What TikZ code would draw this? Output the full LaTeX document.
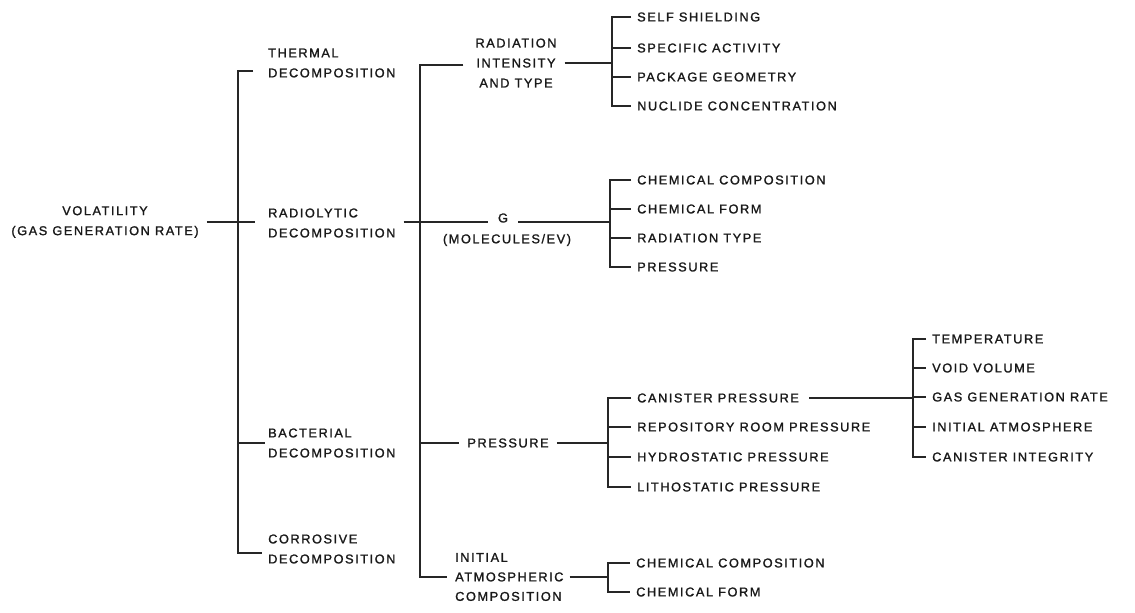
\documentclass[tikz,border=0pt]{standalone}
\usepackage{fontspec}
\usetikzlibrary{calc}
\newfontfamily\lblfont[LetterSpace=12,FakeBold=1.3]{Liberation Sans}
\begin{document}
\begin{tikzpicture}[x=1pt,y=-1pt,
  lbl/.style={font=\lblfont\fontsize{12.8}{20}\selectfont, inner sep=0pt,
              anchor=west, align=left, text=black!90},
  ctr/.style={lbl, anchor=center, align=center},
  wire/.style={draw=black!85, line width=1.4pt},
  tick/.style={wire, shorten >=6pt}]
\fill[white] (0,0) rectangle (1135,613);
\useasboundingbox (0,0) rectangle (1135,613);

% root
\node[ctr] (vol) at (105,222) {VOLATILITY\\(GAS GENERATION RATE)};

% decomposition modes
\node[lbl] (therm) at (268,63)  {THERMAL\\DECOMPOSITION};
\node[lbl] (radio) at (268,223) {RADIOLYTIC\\DECOMPOSITION};
\node[lbl] (bact)  at (268,443) {BACTERIAL\\DECOMPOSITION};
\node[lbl] (corr)  at (268,549) {CORROSIVE\\DECOMPOSITION};

% controlling factors
\node[ctr] (radint) at (516,63) {RADIATION\\INTENSITY\\AND TYPE};
\node[ctr] (g)      at (503,218) {G};
\node[ctr] (mol)    at (507,240) {(MOLECULES/EV)};
\node[ctr] (press)  at (508,443) {PRESSURE};
\node[lbl, font=\lblfont\fontsize{12.8}{19.5}\selectfont] (init) at (455,577) {INITIAL\\ATMOSPHERIC\\COMPOSITION};

% radiation sub-factors
\node[lbl] (ra1) at (637,17)  {SELF SHIELDING};
\node[lbl] (ra2) at (637,48)  {SPECIFIC ACTIVITY};
\node[lbl] (ra3) at (637,77)  {PACKAGE GEOMETRY};
\node[lbl] (ra4) at (637,106) {NUCLIDE CONCENTRATION};

% G-value sub-factors
\node[lbl] (gv1) at (637,180) {CHEMICAL COMPOSITION};
\node[lbl] (gv2) at (637,209) {CHEMICAL FORM};
\node[lbl] (gv3) at (637,238) {RADIATION TYPE};
\node[lbl] (gv4) at (637,267) {PRESSURE};

% pressure sub-factors
\node[lbl] (pr1) at (637,398) {CANISTER PRESSURE};
\node[lbl] (pr2) at (637,427) {REPOSITORY ROOM PRESSURE};
\node[lbl] (pr3) at (637,457) {HYDROSTATIC PRESSURE};
\node[lbl] (pr4) at (637,487) {LITHOSTATIC PRESSURE};

% canister pressure sub-factors
\node[lbl] (cp1) at (932,339) {TEMPERATURE};
\node[lbl] (cp2) at (932,368) {VOID VOLUME};
\node[lbl] (cp3) at (932,397) {GAS GENERATION RATE};
\node[lbl] (cp4) at (932,427) {INITIAL ATMOSPHERE};
\node[lbl] (cp5) at (932,457) {CANISTER INTEGRITY};

% initial atmosphere sub-factors
\node[lbl] (ia1) at (636,563) {CHEMICAL COMPOSITION};
\node[lbl] (ia2) at (636,592) {CHEMICAL FORM};

% bracket spines
\coordinate (b1top) at (238,71);
\coordinate (b1bot) at (238,553);
\coordinate (b2top) at (420,65);
\coordinate (b2bot) at (420,577);
\coordinate (bra) at (612,63);
\coordinate (bgv) at (610,222);
\coordinate (bpr) at (608,443);
\coordinate (bia) at (608,577);
\coordinate (bcp) at (913,398);

% first level
\draw[wire, shorten <=15pt, shorten >=6pt] (therm.west |- b1top) -- (b1top) -- (b1bot) -- (corr.west |- b1bot);
\draw[wire, shorten <=8pt, shorten >=13pt] (vol.east) -- (radio.west |- vol.east);
\draw[wire, shorten >=3pt] (b1top |- bact.west) -- (bact.west);

% second level
\draw[wire, shorten <=12pt, shorten >=8pt] (radint.west |- b2top) -- (b2top) -- (b2bot) -- (init.west |- b2bot);
\draw[wire, shorten <=8pt, shorten >=10pt] (radio.east |- vol.east) -- (g.west |- bgv);
\draw[wire, shorten >=8pt] (b2top |- press.west) -- (press.west);

% factor to sub-factor links
\draw[wire, shorten <=8pt] (radint.east |- bra) -- (bra);
\draw[wire, shorten <=10pt] (g.east |- bgv) -- (bgv);
\draw[wire, shorten <=8pt] (press.east) -- (bpr);
\draw[wire, shorten <=6pt] (init.east |- bia) -- (bia);
\draw[wire, shorten <=10pt] (pr1.east) -- (bcp |- pr1.east);

% sub-factor brackets
\draw[wire, shorten <=6pt, shorten >=6pt] (ra1.west) -| (bra) |- (ra4.west);
\draw[tick] (bra |- ra2.west) -- (ra2.west);
\draw[tick] (bra |- ra3.west) -- (ra3.west);

\draw[wire, shorten <=6pt, shorten >=6pt] (gv1.west) -| (bgv) |- (gv4.west);
\draw[tick] (bgv |- gv2.west) -- (gv2.west);
\draw[tick] (bgv |- gv3.west) -- (gv3.west);

\draw[wire, shorten <=6pt, shorten >=6pt] (pr1.west) -| (bpr) |- (pr4.west);
\draw[tick] (bpr |- pr2.west) -- (pr2.west);
\draw[tick] (bpr |- pr3.west) -- (pr3.west);

\draw[wire, shorten <=6pt, shorten >=6pt] (ia1.west) -| (bia) |- (ia2.west);

\draw[wire, shorten <=6pt, shorten >=6pt] (cp1.west) -| (bcp) |- (cp5.west);
\draw[tick] (bcp |- cp2.west) -- (cp2.west);
\draw[tick] (bcp |- cp3.west) -- (cp3.west);
\draw[tick] (bcp |- cp4.west) -- (cp4.west);
\end{tikzpicture}
\end{document}
